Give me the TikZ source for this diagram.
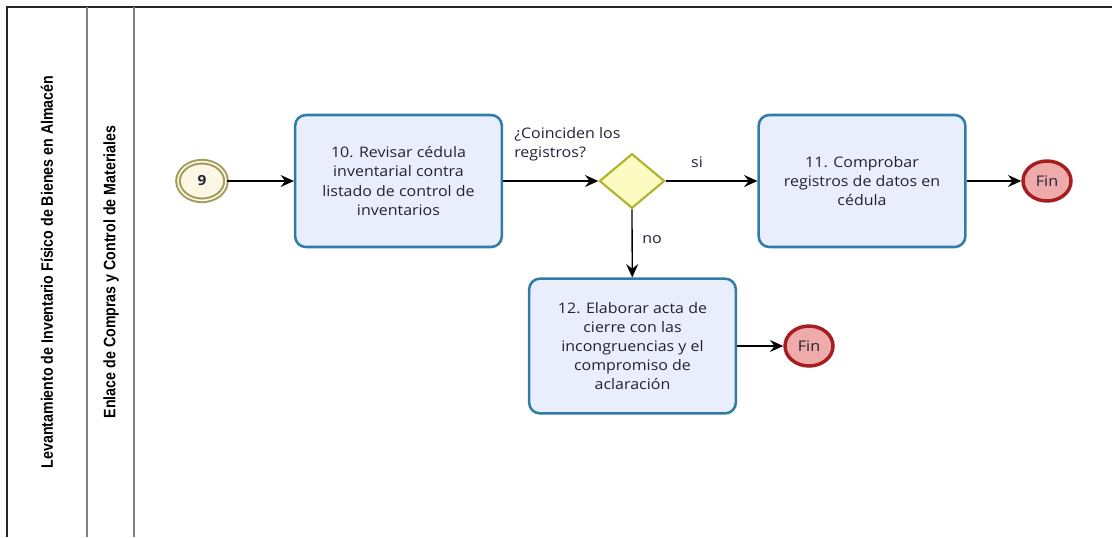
\documentclass[tikz,border=0pt]{standalone}
\usepackage{fontspec}
\setmainfont{Open Sans}[FakeStretch=1.1]
\newfontfamily\lanefont{Liberation Sans}[FakeStretch=0.86]
\usetikzlibrary{arrows.meta,shapes.geometric}

\definecolor{taskline}{HTML}{2F7DA6}
\definecolor{taskfill}{HTML}{E9EEFC}
\definecolor{txt}{HTML}{222236}
\definecolor{gateline}{HTML}{B3B22E}
\definecolor{gatefill}{HTML}{FCFCC2}
\definecolor{startline}{HTML}{A29C5C}
\definecolor{startfill}{HTML}{FBF7E4}
\definecolor{endline}{HTML}{A61E22}
\definecolor{endfill}{HTML}{EFAAAA}
\definecolor{lanegray}{HTML}{808080}

\tikzset{
  task/.style={draw=taskline, fill=taskfill, line width=1.9pt, rounded corners=8pt,
    minimum width=155pt, minimum height=99pt, inner sep=0pt, align=center,
    text=txt, font=\fontsize{10.9}{14.4}\selectfont},
  gateway/.style={draw=gateline, fill=gatefill, line width=1.6pt, diamond,
    minimum width=49pt, minimum height=41pt, inner sep=0pt},
  startev/.style={draw=startline, fill=startfill, line width=1.5pt, double=startfill,
    double distance=1.2pt, ellipse, minimum width=36pt, minimum height=29pt,
    inner sep=0pt, font=\bfseries\fontsize{10.5}{12}\selectfont, text=txt},
  endev/.style={draw=endline, fill=endfill, line width=2.6pt, ellipse,
    minimum width=36pt, minimum height=30pt, inner sep=0pt,
    font=\fontsize{11}{12}\selectfont, text=txt},
  flow/.style={-{Stealth[length=10pt,width=9pt,inset=3.5pt]}, line width=1pt, black},
  lbl/.style={text=txt, font=\fontsize{10.9}{14.6}\selectfont, inner sep=0pt},
  lanetitle/.style={rotate=90, font=\lanefont\bfseries\fontsize{12.4}{14}\selectfont,
    text=black, inner sep=0pt},
}

\begin{document}
\begin{tikzpicture}[x=0.75pt, y=-0.75pt]
  \useasboundingbox (0,0) rectangle (1112,537);

  % pool and lane frame
  \draw[line width=1.4pt, black!85] (1112,7) -- (7,7) -- (7,537);
  \draw[line width=1.6pt, lanegray] (87,7) -- (87,537);
  \draw[line width=1.6pt, lanegray] (134,7) -- (134,537);
  \node[lanetitle] (pool) at (47,272) {Levantamiento de Inventario Físico de Bienes en Almacén};
  \node[lanetitle] (lane) at (111,272) {Enlace de Compras y Control de Materiales};

  % flow elements
  \node[startev] (s9) at (202,181) {9};
  \node[task] (t10) at (398.5,181) {10. Revisar cédula\\inventarial contra\\listado de control de\\inventarios};
  \node[gateway] (g) at (632,181) {};
  \node[task] (t11) at (862,181) {11. Comprobar\\registros de datos en\\cédula};
  \node[endev] (e1) at (1047,181) {Fin};
  \node[task, minimum height=101pt] (t12) at (632.5,346) {12. Elaborar acta de\\cierre con las\\incongruencias y el\\compromiso de\\aclaración};
  \node[endev] (e2) at (809,346) {Fin};

  % labels
  \node[lbl, anchor=north west, align=left] (q) at (514,127) {¿Coinciden los\\registros?};
  \node[lbl] (si) at (697,162) {si};
  \node[lbl] (no) at (652,240) {no};

  % sequence flows
  \draw[flow] (s9) -- (t10);
  \draw[flow] (t10) -- (g.west);
  \draw[flow] (g.east) -- (t11);
  \draw[flow] (t11) -- (e1);
  \draw[flow] (g.south) -- (t12);
  \draw[flow] (t12.east |- e2) -- (e2);
\end{tikzpicture}
\end{document}
